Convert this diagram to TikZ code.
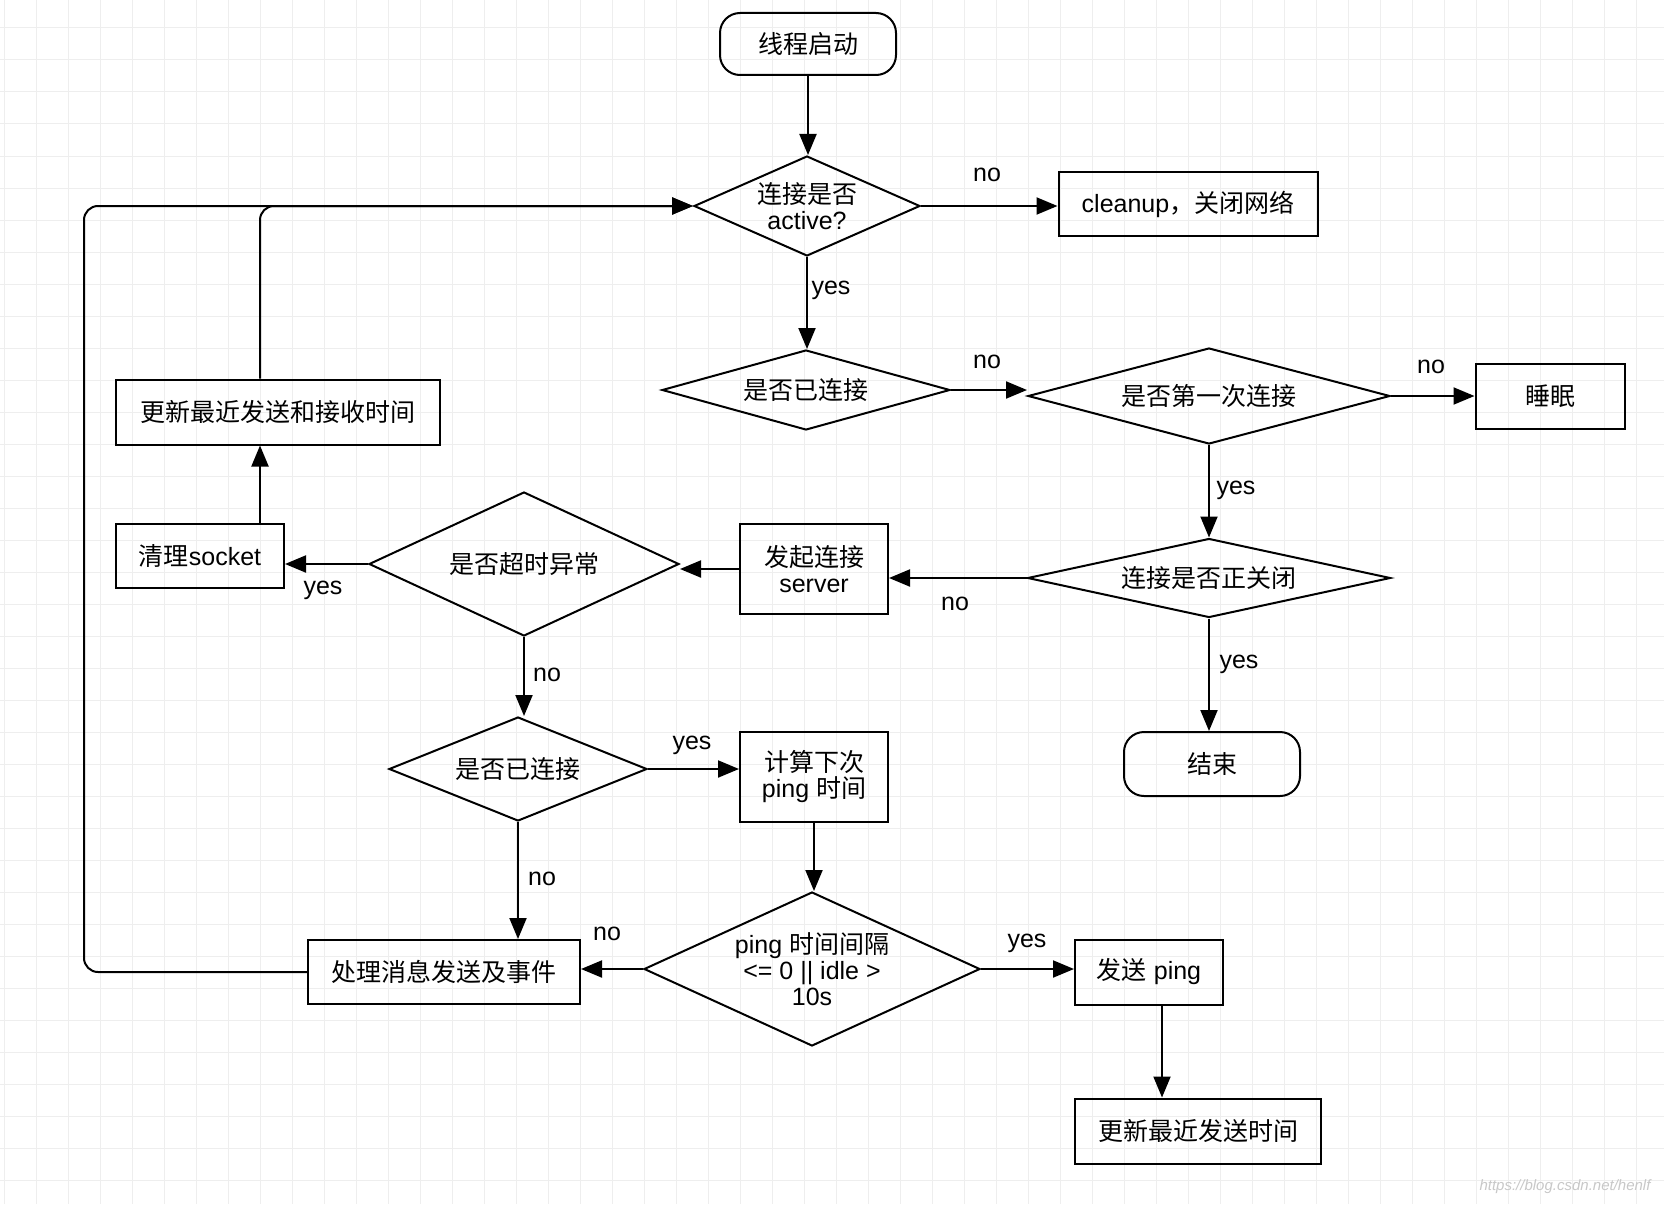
\documentclass[tikz,border=0pt]{standalone}
\usepackage{fontspec}
\setmainfont{Liberation Sans}
\newfontfamily\cjk{Noto Sans CJK SC}
\usetikzlibrary{shapes.geometric, arrows.meta, calc}
\definecolor{gridgray}{HTML}{EEEEEE}
\definecolor{markgray}{HTML}{C8C8C8}

\begin{document}
\begin{tikzpicture}[x=1pt, y=-1pt,
    base/.style={font=\fontsize{25}{26}\selectfont, align=center, inner sep=0pt},
    box/.style={base, draw, line width=2pt},
    term/.style={box, rounded corners=20pt},
    dec/.style={box, diamond},
    lbl/.style={base},
    arrw/.style={-{Triangle[length=21pt, width=17pt]}, line width=2pt}
]

% Canvas with the faint grid behind everything
\useasboundingbox (0,0) rectangle (1664,1204);
\fill[white] (0,0) rectangle (1664,1204);
\foreach \gx in {4,36,...,1664} \draw[gridgray, line width=1pt] (\gx,0) -- (\gx,1204);
\foreach \gy in {28,60,...,1204} \draw[gridgray, line width=1pt] (0,\gy) -- (1664,\gy);

% Main column: start, active check, connected check
\node[term, minimum width=176pt, minimum height=62pt] (start) at (808,44) {{\cjk 线程启动}};
\node[dec, minimum width=226pt, minimum height=100pt, shape aspect=2.26] (active) at (807,206) {{\cjk 连接是否}\\active?};
\node[box, minimum width=259pt, minimum height=64pt] (cleanup) at (1188,204) {cleanup{\cjk ，关闭网络}};
\node[dec, minimum width=288pt, minimum height=80pt, shape aspect=3.6] (isconn) at (806,390) {{\cjk 是否已连接}};

% Right branch: first connection / closing
\node[dec, minimum width=362pt, minimum height=96pt, shape aspect=3.77] (first) at (1209,396) {{\cjk 是否第一次连接}};
\node[box, minimum width=149pt, minimum height=65pt] (sleep) at (1550,396) {{\cjk 睡眠}};
\node[dec, minimum width=363pt, minimum height=79pt, shape aspect=4.6] (closing) at (1209,578) {{\cjk 连接是否正关闭}};
\node[term, minimum width=176pt, minimum height=64pt] (finish) at (1212,764) {{\cjk 结束}};

% Middle row: connect, timeout, cleanup socket
\node[box, minimum width=148pt, minimum height=90pt] (dial) at (814,569) {{\cjk 发起连接}\\server};
\node[dec, minimum width=310pt, minimum height=144pt, shape aspect=2.15] (timeout) at (524,564) {{\cjk 是否超时异常}};
\node[box, minimum width=168pt, minimum height=64pt] (clean) at (200,556) {{\cjk 清理}socket};
\node[box, minimum width=324pt, minimum height=65pt] (touch) at (278,412) {{\cjk 更新最近发送和接收时间}};

% Lower part: ping handling
\node[dec, minimum width=258pt, minimum height=104pt, shape aspect=2.48] (isconn2) at (518,769) {{\cjk 是否已连接}};
\node[box, minimum width=148pt, minimum height=90pt] (nextping) at (814,777) {{\cjk 计算下次}\\ping {\cjk 时间}};
\node[dec, minimum width=336pt, minimum height=154pt, shape aspect=2.18] (due) at (812,969) {ping {\cjk 时间间隔}\\<= 0 || idle >\\10s};
\node[box, minimum width=272pt, minimum height=64pt] (handle) at (444,972) {{\cjk 处理消息发送及事件}};
\node[box, minimum width=148pt, minimum height=65pt] (sendping) at (1149,972) {{\cjk 发送} ping};
\node[box, minimum width=246pt, minimum height=65pt] (touchsend) at (1198,1131) {{\cjk 更新最近发送时间}};

% Branch labels
\node[lbl] (active-no) at (987,175) {no};
\node[lbl] (active-yes) at (831,290) {yes};
\node[lbl] (isconn-no) at (987,362) {no};
\node[lbl] (first-no) at (1431,367) {no};
\node[lbl] (first-yes) at (1236,490) {yes};
\node[lbl] (closing-no) at (955,604) {no};
\node[lbl] (closing-yes) at (1239,664) {yes};
\node[lbl] (timeout-yes) at (323,590) {yes};
\node[lbl] (timeout-no) at (547,675) {no};
\node[lbl] (isconn2-yes) at (692,745) {yes};
\node[lbl] (isconn2-no) at (542,879) {no};
\node[lbl] (due-no) at (607,934) {no};
\node[lbl] (due-yes) at (1027,943) {yes};

% Connectors
\draw[arrw] (start.south) -- (start.south |- active.north);
\draw[arrw] (active.east) -- (active.east -| cleanup.west);
\draw[arrw] (active.south) -- (active.south |- isconn.north);
\draw[arrw] (isconn.east) -- (isconn.east -| first.west);
\draw[arrw] (first.east) -- (first.east -| sleep.west);
\draw[arrw] (first.south) -- (first.south |- closing.north);
\draw[arrw] (closing.south) -- (closing.south |- finish.north);
\draw[arrw] (closing.west) -- (closing.west -| dial.east);
\draw[arrw] (dial.west) -- (dial.west -| timeout.east);
\draw[arrw] (timeout.west) -- (timeout.west -| clean.east);
\draw[arrw] (timeout.south) -- (timeout.south |- isconn2.north);
\draw[arrw] (isconn2.east) -- (isconn2.east -| nextping.west);
\draw[arrw] (isconn2.south) -- (isconn2.south |- handle.north);
\draw[arrw] (nextping.south) -- (nextping.south |- due.north);
\draw[arrw] (due.west) -- (due.west -| handle.east);
\draw[arrw] (due.east) -- (due.east -| sendping.west);
\draw[arrw] ([xshift=13pt]sendping.south) -- ([xshift=13pt]sendping.south |- touchsend.north);

% Loops back to the active check
\coordinate (inner) at (260,0);
\coordinate (outer) at (84,0);
\draw[arrw] (clean.north -| inner) -- (touch.south -| inner);
\draw[arrw, rounded corners=14pt] (touch.north -| inner) |- (active.west);
\draw[arrw, rounded corners=14pt] (handle.west) -| (outer |- active.west) -- (active.west);

\node[font=\fontsize{15}{16}\selectfont\itshape, text=markgray] (mark) at (1565,1187) {https://blog.csdn.net/henlf};

\end{tikzpicture}
\end{document}
